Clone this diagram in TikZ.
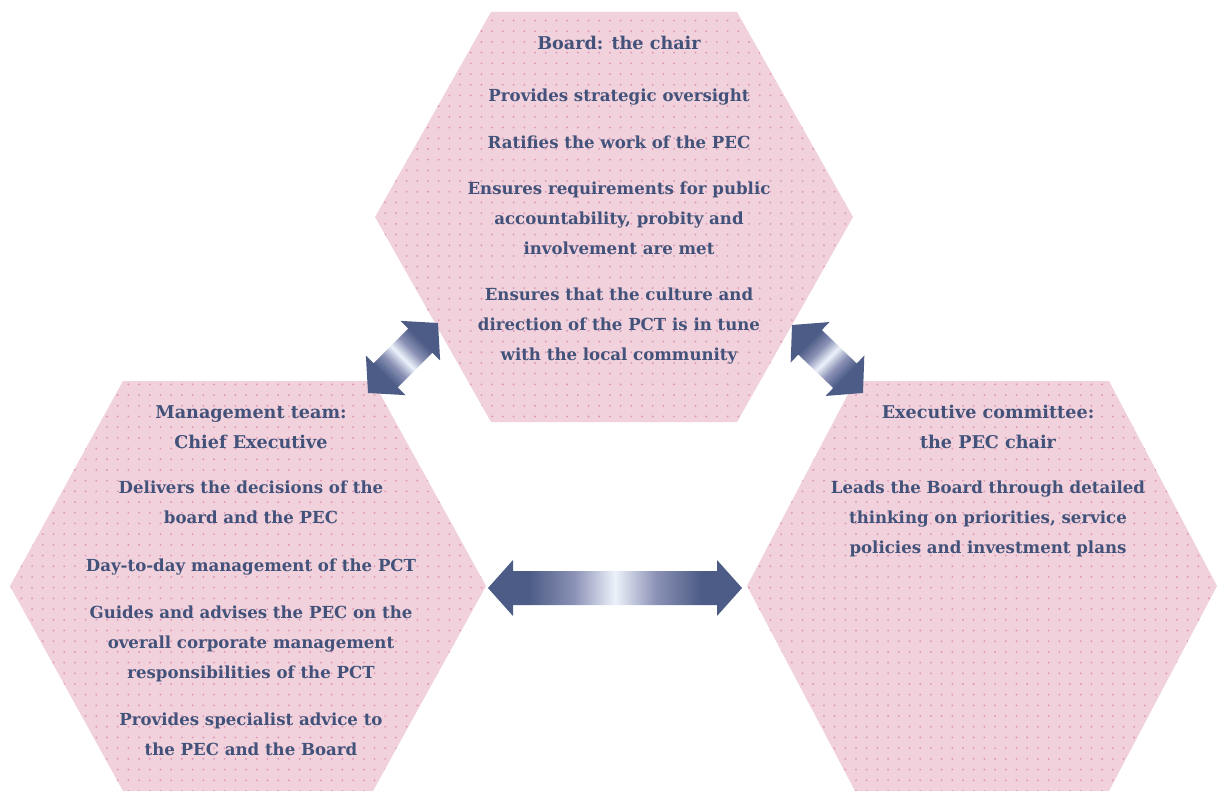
\documentclass[tikz,border=0pt]{standalone}
\usepackage{fontspec}
\setmainfont{DejaVu Serif}
\usetikzlibrary{calc,patterns.meta}
\definecolor{hexpink}{RGB}{241,210,220}
\definecolor{hexdot}{RGB}{224,150,180}
\definecolor{txtblue}{RGB}{66,82,122}
\definecolor{arrdark}{RGB}{76,92,134}
\definecolor{arrmid}{RGB}{140,146,182}
\definecolor{arrlight}{RGB}{236,242,250}
\pgfdeclarehorizontalshading{arrowshade}{100bp}{color(0bp)=(arrdark); color(25bp)=(arrdark); color(33bp)=(arrdark); color(42bp)=(arrmid); color(50bp)=(arrlight); color(58bp)=(arrmid); color(67bp)=(arrdark); color(75bp)=(arrdark); color(100bp)=(arrdark)}
\tikzset{
  hexstyle/.style={fill=hexpink, postaction={pattern={Dots[distance=10.7pt,radius=1.05pt]}, pattern color=hexdot}},
  txt/.style={text=txtblue, font=\bfseries\fontsize{16.6}{30}\selectfont, align=center, inner sep=0pt, anchor=north},
}
\newcommand\hd[1]{{\fontsize{17.6}{30}\selectfont #1}}
\newcommand\hexshape[6]{%
  \coordinate (#1) at (#2,#3);
  \path[hexstyle] ($(#1)+(-#5,-#6)$) -- ($(#1)+(#5,-#6)$) -- ($(#1)+(#4,0)$) -- ($(#1)+(#5,#6)$) -- ($(#1)+(-#5,#6)$) -- ($(#1)+(-#4,0)$) -- cycle;}
\newcommand\blockarrow[3]{%
  \shade[shading=arrowshade, shading angle=#3]
  (#1) -- ($(#1)!25pt!(#2)!28pt!90:(#2)$) -- ($(#1)!25pt!(#2)!17pt!90:(#2)$)
  -- ($(#2)!25pt!(#1)!17pt!-90:(#1)$) -- ($(#2)!25pt!(#1)!28pt!-90:(#1)$)
  -- (#2) -- ($(#2)!25pt!(#1)!28pt!90:(#1)$) -- ($(#2)!25pt!(#1)!17pt!90:(#1)$)
  -- ($(#1)!25pt!(#2)!17pt!-90:(#2)$) -- ($(#1)!25pt!(#2)!28pt!-90:(#2)$) -- cycle;}
\begin{document}
\begin{tikzpicture}[x=1pt,y=-1pt]
\fill[white] (0,0) rectangle (1217,791);
\useasboundingbox (0,0) rectangle (1217,791);
\hexshape{board}{614}{217}{239}{123}{205}
\hexshape{mgmt}{248}{586}{238}{125}{205}
\hexshape{exec}{982}{586}{235}{127}{205}
\node[txt] (boardtxt) at (619,36) {\hd{Board: the chair}\\[22pt]
Provides strategic oversight\\[17pt]
Ratifies the work of the PEC\\[16pt]
Ensures requirements for public\\ accountability, probity and\\ involvement are met\\[16pt]
Ensures that the culture and\\ direction of the PCT is in tune\\ with the local community};
\node[txt] (mgmttxt) at (251,405) {\hd{Management team:}\\ \hd{Chief Executive}\\[15pt]
Delivers the decisions of the\\ board and the PEC\\[18pt]
Day-to-day management of the PCT\\[17pt]
Guides and advises the PEC on the\\ overall corporate management\\ responsibilities of the PCT\\[17pt]
Provides specialist advice to\\ the PEC and the Board};
\node[txt] (exectxt) at (988,405) {\hd{Executive committee:}\\ \hd{the PEC chair}\\[15pt]
Leads the Board through detailed\\ thinking on priorities, service\\ policies and investment plans};
\coordinate (a1) at (368,393);
\coordinate (a2) at (438,323);
\coordinate (b1) at (792,325);
\coordinate (b2) at (863,393);
\coordinate (c1) at (488,588);
\coordinate (c2) at (742,588);
\blockarrow{a1}{a2}{45}
\blockarrow{b1}{b2}{-45}
\blockarrow{c1}{c2}{0}
\end{tikzpicture}
\end{document}
